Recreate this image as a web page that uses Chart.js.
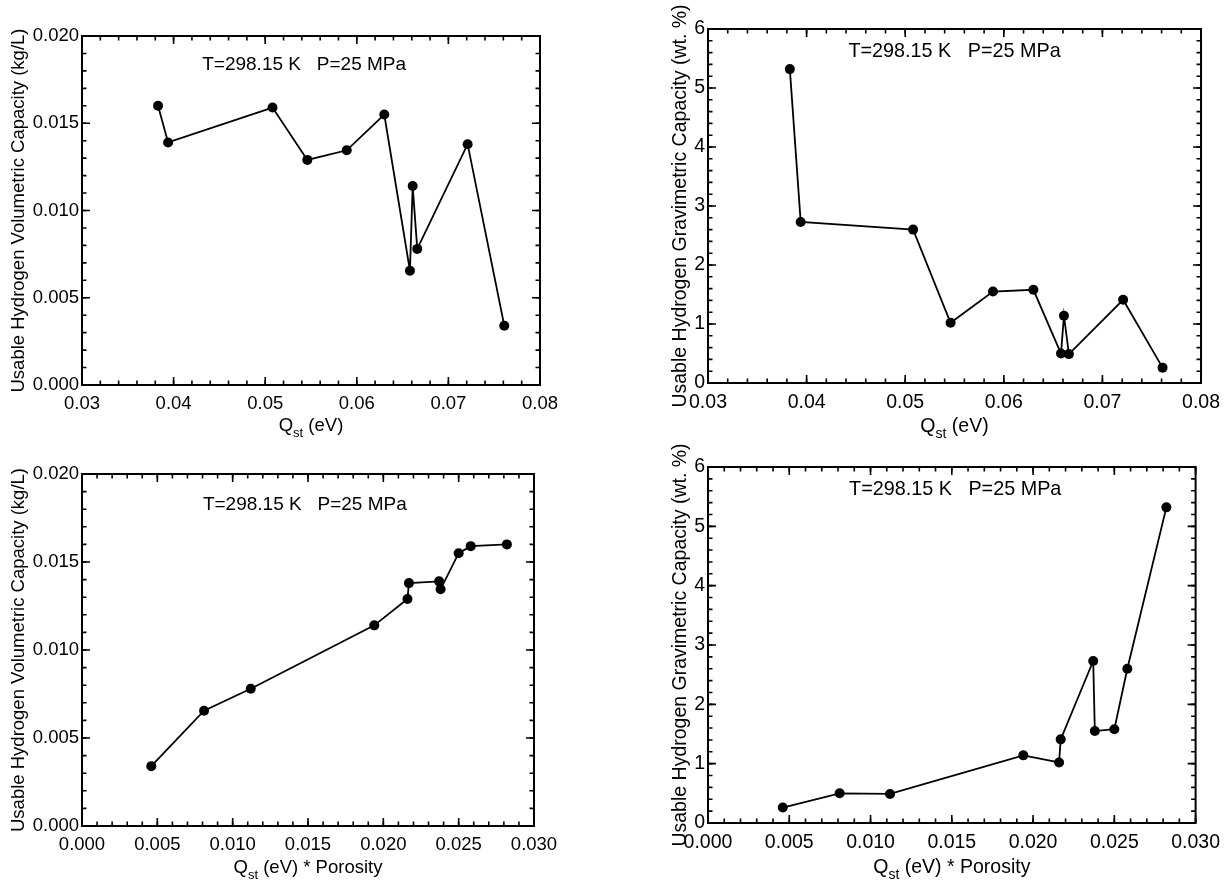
<!DOCTYPE html>
<html>
<head>
<meta charset="utf-8">
<script src="https://cdn.jsdelivr.net/npm/chart.js@4.4.1/dist/chart.umd.min.js"></script>
<style>
    body { margin: 0; background: #fff; }
    .panel { position: absolute; }
</style>
</head>
<body>
<canvas class="panel" id="vol-qst" width="614" height="440" style="left:0;top:0"></canvas>
<canvas class="panel" id="grav-qst" width="614" height="440" style="left:614px;top:0"></canvas>
<canvas class="panel" id="vol-qp" width="614" height="441" style="left:0;top:440px"></canvas>
<canvas class="panel" id="grav-qp" width="614" height="441" style="left:614px;top:440px"></canvas>
<script>
// one entry per material, same order in every array
const qst = [0.0383, 0.0394, 0.0508, 0.0546, 0.0589, 0.0630, 0.0658, 0.0661, 0.0666, 0.0721, 0.0761];
const qstPorosity = [0.0282, 0.0237, 0.0258, 0.0216, 0.0238, 0.0250, 0.0081, 0.0194, 0.0112, 0.0217, 0.0046];
const volCapacity = [0.0160, 0.0139, 0.0159, 0.0129, 0.01345, 0.0155, 0.00655, 0.0114, 0.0078, 0.0138, 0.0034];
const gravCapacity = [5.32, 2.73, 2.60, 1.02, 1.55, 1.58, 0.50, 1.14, 0.49, 1.41, 0.26];

const qstTicks = [0.03, 0.04, 0.05, 0.06, 0.07, 0.08];
const qstPorosityTicks = [0.000, 0.005, 0.010, 0.015, 0.020, 0.025, 0.030];
const volTicks = [0.000, 0.005, 0.010, 0.015, 0.020];
const gravTicks = [0, 1, 2, 3, 4, 5, 6];

const conditionsLabel = 'T=298.15 K   P=25 MPa';
const volTitle = 'Usable Hydrogen Volumetric Capacity (kg/L)';
const gravTitle = 'Usable Hydrogen Gravimetric Capacity (wt. %)';

const FONT = "'Liberation Sans', Arial, Helvetica, sans-serif";

const panels = [
    { id: 'vol-qst', xs: qst, ys: volCapacity, xTicks: qstTicks, xMinor: 0.002, xDigits: 2,
      yTicks: volTicks, yMinor: 0.001, yDigits: 3, yTitle: volTitle, xRest: ' (eV)',
      area: [82, 36, 540, 385], tickSize: 18.5, titleSize: 18.5, titlePad: 7.4,
      noteSize: 19, noteX: 0.485, noteY: 29, xTitleY: 46 },
    { id: 'grav-qst', xs: qst, ys: gravCapacity, xTicks: qstTicks, xMinor: 0.002, xDigits: 2,
      yTicks: gravTicks, yMinor: 0.2, yDigits: 0, yTitle: gravTitle, xRest: ' (eV)',
      area: [94, 29, 589, 383], tickSize: 19.5, titleSize: 19.5, titlePad: 54.8,
      noteSize: 19.8, noteX: 0.5, noteY: 23, xTitleY: 49 },
    { id: 'vol-qp', xs: qstPorosity, ys: volCapacity, xTicks: qstPorosityTicks, xMinor: 0.001, xDigits: 3,
      yTicks: volTicks, yMinor: 0.001, yDigits: 3, yTitle: volTitle, xRest: ' (eV) * Porosity',
      area: [82, 34, 534, 386], tickSize: 18.5, titleSize: 18.5, titlePad: 7.4,
      noteSize: 19, noteX: 0.493, noteY: 31, xTitleY: 47 },
    { id: 'grav-qp', xs: qstPorosity, ys: gravCapacity, xTicks: qstPorosityTicks, xMinor: 0.001, xDigits: 3,
      yTicks: gravTicks, yMinor: 0.2, yDigits: 0, yTitle: gravTitle, xRest: ' (eV) * Porosity',
      area: [94, 27, 583, 383], tickSize: 19.5, titleSize: 19.5, titlePad: 54.8,
      noteSize: 19.8, noteX: 0.507, noteY: 23, xTitleY: 50 },
];

// inward tick marks on all four sides, the frame, the conditions note and the Q_st axis title
function framePlugin(p) {
    function ticksAlong(ctx, scale, values, len, horizontal, a) {
        values.forEach(v => {
            const px = scale.getPixelForValue(v);
            ctx.beginPath();
            if (horizontal) {
                ctx.moveTo(px, a.bottom); ctx.lineTo(px, a.bottom - len);
                ctx.moveTo(px, a.top); ctx.lineTo(px, a.top + len);
            } else {
                ctx.moveTo(a.left, px); ctx.lineTo(a.left + len, px);
                ctx.moveTo(a.right, px); ctx.lineTo(a.right - len, px);
            }
            ctx.stroke();
        });
    }
    function steps(ticks, minor) {
        const lo = ticks[0], hi = ticks[ticks.length - 1];
        const n = Math.round((hi - lo) / minor);
        const out = [];
        for (let i = 0; i <= n; i++) out.push(lo + i * minor);
        return out;
    }
    return {
        id: 'frame',
        afterDraw(chart) {
            const { ctx, chartArea: a, scales: { x, y } } = chart;
            ctx.save();
            ctx.strokeStyle = '#000';
            ctx.lineWidth = 1.6;
            ticksAlong(ctx, x, steps(p.xTicks, p.xMinor), 4.5, true, a);
            ticksAlong(ctx, x, p.xTicks, 8, true, a);
            ticksAlong(ctx, y, steps(p.yTicks, p.yMinor), 4.5, false, a);
            ticksAlong(ctx, y, p.yTicks, 8, false, a);
            ctx.lineWidth = 2;
            ctx.strokeRect(a.left, a.top, a.right - a.left, a.bottom - a.top);

            ctx.fillStyle = '#000';
            ctx.textAlign = 'center';
            ctx.textBaseline = 'middle';
            ctx.font = p.noteSize + 'px ' + FONT;
            ctx.fillText(conditionsLabel, a.left + p.noteX * (a.right - a.left), a.top + p.noteY);

            // Q with subscript "st"
            const big = p.titleSize + 'px ' + FONT;
            const small = Math.round(p.titleSize * 0.7) + 'px ' + FONT;
            ctx.font = big;
            const wQ = ctx.measureText('Q').width;
            const wRest = ctx.measureText(p.xRest).width;
            ctx.font = small;
            const wSub = ctx.measureText('st').width;
            let xPos = (a.left + a.right) / 2 - (wQ + wSub + wRest) / 2;
            const base = a.bottom + p.xTitleY;
            ctx.textAlign = 'left';
            ctx.textBaseline = 'alphabetic';
            ctx.font = big;
            ctx.fillText('Q', xPos, base);
            xPos += wQ;
            ctx.font = small;
            ctx.fillText('st', xPos, base + 6);
            xPos += wSub;
            ctx.font = big;
            ctx.fillText(p.xRest, xPos, base);
            ctx.restore();
        }
    };
}

panels.forEach(p => {
    const canvas = document.getElementById(p.id);
    let points = p.xs.map((v, i) => ({ x: v, y: p.ys[i] }));
    points.sort((a, b) => a.x - b.x);

    new Chart(canvas.getContext('2d'), {
        type: 'scatter',
        data: {
            datasets: [{
                data: points,
                showLine: true,
                borderColor: '#000',
                borderWidth: 1.8,
                backgroundColor: '#000',
                pointRadius: 5,
                pointBorderWidth: 0,
                pointBackgroundColor: '#000',
            }],
        },
        options: {
            responsive: false,
            animation: false,
            events: [],
            layout: { padding: { left: 0, top: p.area[1], right: canvas.width - p.area[2], bottom: 0 } },
            plugins: { legend: { display: false }, tooltip: { enabled: false } },
            scales: {
                x: {
                    type: 'linear',
                    min: p.xTicks[0],
                    max: p.xTicks[p.xTicks.length - 1],
                    afterBuildTicks: s => { s.ticks = p.xTicks.map(v => ({ value: v })); },
                    afterFit: s => { s.height = canvas.height - p.area[3]; },
                    grid: { display: false, drawTicks: false },
                    border: { display: false },
                    ticks: {
                        color: '#000', autoSkip: false, maxRotation: 0, padding: 8,
                        font: { family: FONT, size: p.tickSize },
                        callback: v => v.toFixed(p.xDigits),
                    },
                },
                y: {
                    type: 'linear',
                    min: p.yTicks[0],
                    max: p.yTicks[p.yTicks.length - 1],
                    afterBuildTicks: s => { s.ticks = p.yTicks.map(v => ({ value: v })); },
                    afterFit: s => { s.width = p.area[0]; },
                    grid: { display: false, drawTicks: false },
                    border: { display: false },
                    ticks: {
                        color: '#000', autoSkip: false, padding: 3,
                        font: { family: FONT, size: p.tickSize },
                        callback: v => v.toFixed(p.yDigits),
                    },
                    title: {
                        display: true, text: p.yTitle, color: '#000',
                        font: { family: FONT, size: p.titleSize },
                        padding: { top: p.titlePad, bottom: 0 },
                    },
                },
            },
        },
        plugins: [framePlugin(p)],
    });
});
</script>
</body>
</html>
